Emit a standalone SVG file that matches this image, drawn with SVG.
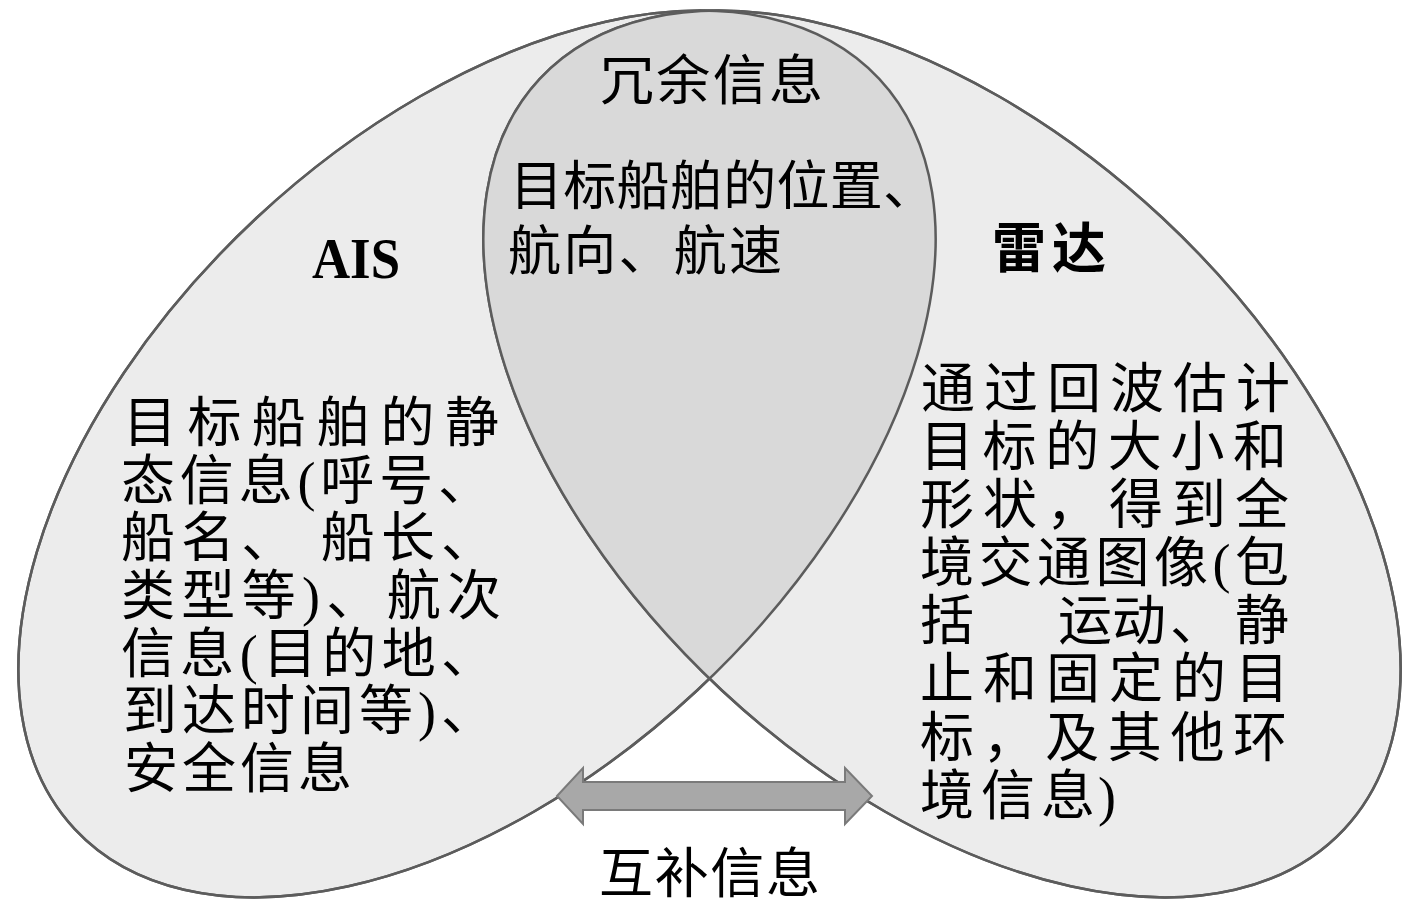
<svg xmlns="http://www.w3.org/2000/svg" xmlns:xlink="http://www.w3.org/1999/xlink" width="1417" height="915" viewBox="0 0 1417 915">
<style>
.t{font-family:"Liberation Serif","Noto Sans CJK SC",serif;fill:#000;}
.b54{font-size:54px;}
.b53{font-size:53px;}
.bold{font-weight:bold;}
.fillOuter{fill:#ececec;stroke:#5c5c5c;stroke-width:2.5;}
.fillLens{fill:#d9d9d9;stroke:none;}
.outline{fill:none;stroke:#5c5c5c;stroke-width:2.5;}
.arrow{fill:#a8a8a8;stroke:#7a7a7a;stroke-width:2;stroke-linejoin:miter;}
</style>
<defs>
<ellipse id="ellL" cx="477" cy="454" rx="550" ry="323" transform="rotate(-43 477 454)"/>
<ellipse id="ellR" cx="942" cy="454" rx="550" ry="323" transform="rotate(43 942 454)"/>
<clipPath id="clipL"><use xlink:href="#ellL"/></clipPath>
</defs>
<rect x="0" y="0" width="1417" height="915" fill="#ffffff"/>

<g id="ais">
<use xlink:href="#ellL" class="fillOuter"/>
</g>
<g id="radar">
<use xlink:href="#ellR" class="fillOuter"/>
</g>
<g id="redundant">
<use xlink:href="#ellR" class="fillLens" clip-path="url(#clipL)"/>
<use xlink:href="#ellL" class="outline"/>
<use xlink:href="#ellR" class="outline"/>
</g>

<g id="ais-labels">
<text class="t bold" x="312" y="278" font-size="58" textLength="88" lengthAdjust="spacingAndGlyphs">AIS</text>
<text class="t b54" x="123" y="442" textLength="376" lengthAdjust="spacing">目标船舶的静</text>
<text class="t b54" x="121" y="500" textLength="371" lengthAdjust="spacing">态信息(呼号、</text>
<text class="t b54" x="121" y="557" textLength="374" lengthAdjust="spacing">船名、 船长、</text>
<text class="t b54" x="121" y="615" textLength="380" lengthAdjust="spacing">类型等)、航次</text>
<text class="t b54" x="121" y="673" textLength="374" lengthAdjust="spacing">信息(目的地、</text>
<text class="t b54" x="123" y="730" textLength="372" lengthAdjust="spacing">到达时间等)、</text>
<text class="t b54" x="124" y="788" textLength="228" lengthAdjust="spacing">安全信息</text>
</g>

<g id="radar-labels">
<text class="t bold b54" x="992" y="268" textLength="114" lengthAdjust="spacing">雷达</text>
<text class="t b54" x="921" y="408" textLength="369" lengthAdjust="spacing">通过回波估计</text>
<text class="t b54" x="920" y="466" textLength="367" lengthAdjust="spacing">目标的大小和</text>
<text class="t b54" x="920" y="524" textLength="369" lengthAdjust="spacing">形状，得到全</text>
<text class="t b54" x="920" y="582" textLength="369" lengthAdjust="spacing">境交通图像(包</text>
<text class="t b54" x="920 974 1058 1112 1170 1235" y="640">括 运动、静</text>
<text class="t b54" x="920" y="698" textLength="369" lengthAdjust="spacing">止和固定的目</text>
<text class="t b54" x="920" y="757" textLength="367" lengthAdjust="spacing">标，及其他环</text>
<text class="t b54" x="920 981 1041 1098" y="815">境信息)</text>
</g>

<g id="redundant-labels">
<text class="t b54" x="600" y="100" textLength="223" lengthAdjust="spacing">冗余信息</text>
<text class="t b53" x="510" y="205" textLength="426" lengthAdjust="spacing">目标船舶的位置、</text>
<text class="t b53" x="508" y="270" textLength="274" lengthAdjust="spacing">航向、航速</text>
</g>

<g id="connectors">
<polygon class="arrow" points="557,796 583,768 583,782 845,782 845,768 872,796 845,824 845,810 583,810 583,824"/>
</g>

<g id="complementary">
<text class="t b54" x="599" y="893" textLength="221" lengthAdjust="spacing">互补信息</text>
</g>
</svg>
